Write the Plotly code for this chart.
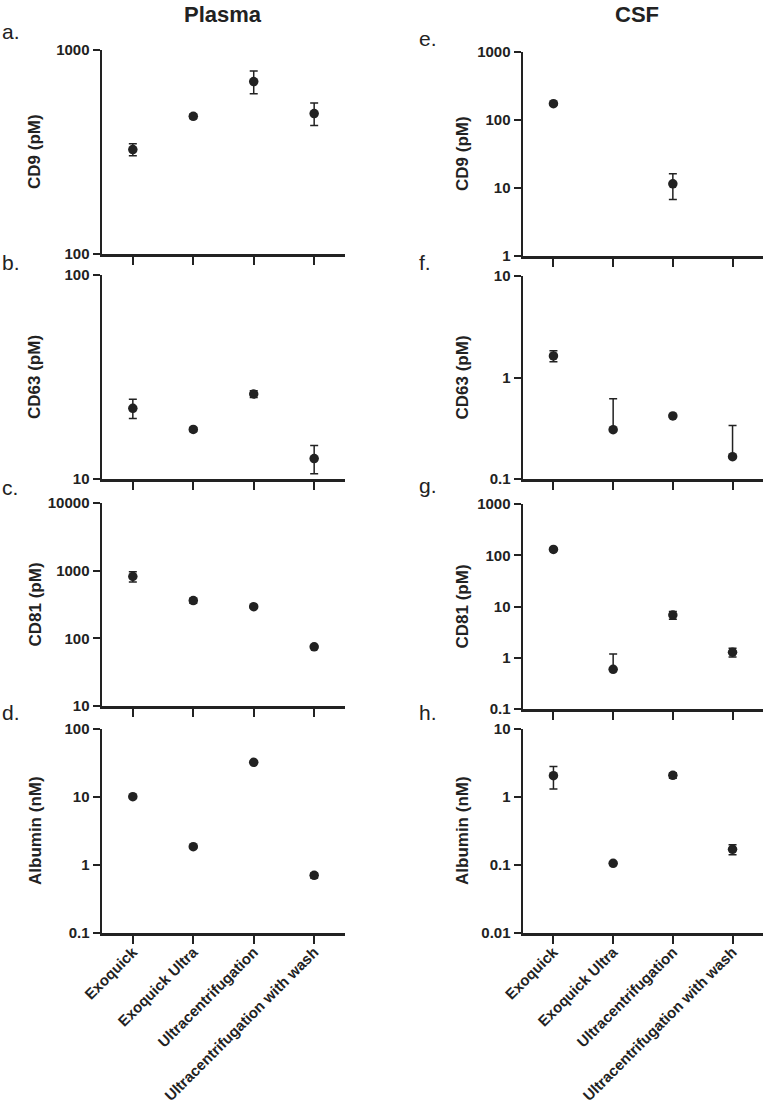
import math
import plotly.graph_objects as go

categories = ["Exoquick", "Exoquick Ultra", "Ultracentrifugation", "Ultracentrifugation with wash"]

# Plasma
plasma_cd9 = [325, 473, 700, 488]
plasma_cd9_err = [22, 12, 90, 62]
plasma_cd63 = [22.2, 17.5, 26.1, 12.6]
plasma_cd63_err = [2.4, 0.4, 1.0, 2.0]
plasma_cd81 = [820, 361, 294, 75]
plasma_cd81_err = [140, 30, 12, 3]
plasma_alb = [10.1, 1.86, 32.4, 0.705]
plasma_alb_err = [0.3, 0.06, 1.0, 0.06]

# CSF
csf_cd9 = [174, None, 11.5, None]
csf_cd9_err = [6, 0, 4.7, 0]
csf_cd63 = [1.63, 0.306, 0.418, 0.166]
csf_cd63_err_plus = [0.2, 0.31, 0.01, 0.17]
csf_cd63_err_minus = [0.2, 0.0, 0.01, 0.0]
csf_cd81 = [130, 0.594, 6.83, 1.28]
csf_cd81_err_plus = [5, 0.59, 1.2, 0.25]
csf_cd81_err_minus = [5, 0.0, 1.2, 0.25]
csf_alb = [2.06, 0.106, 2.08, 0.170]
csf_alb_err = [0.75, 0.004, 0.2, 0.028]

# tick labels
ticks_a = ["100", "1000"]
ticks_b = ["10", "100"]
ticks_c = ["10", "100", "1000", "10000"]
ticks_d = ["0.1", "1", "10", "100"]
ticks_e = ["1", "10", "100", "1000"]
ticks_f = ["0.1", "1", "10"]
ticks_g = ["0.1", "1", "10", "100", "1000"]
ticks_h = ["0.01", "0.1", "1", "10"]

W, H = 766, 1110
INK = "#222222"
FONT = "Liberation Sans"

panels = [
    ("a.", plasma_cd9, plasma_cd9_err, plasma_cd9_err, ticks_a, "CD9 (pM)", 0, (50, 254), False),
    ("b.", plasma_cd63, plasma_cd63_err, plasma_cd63_err, ticks_b, "CD63 (pM)", 0, (275, 479), False),
    ("c.", plasma_cd81, plasma_cd81_err, plasma_cd81_err, ticks_c, "CD81 (pM)", 0, (503, 706), False),
    ("d.", plasma_alb, plasma_alb_err, plasma_alb_err, ticks_d, "Albumin (nM)", 0, (729, 933), True),
    ("e.", csf_cd9, csf_cd9_err, csf_cd9_err, ticks_e, "CD9 (pM)", 1, (52, 256), False),
    ("f.", csf_cd63, csf_cd63_err_plus, csf_cd63_err_minus, ticks_f, "CD63 (pM)", 1, (276, 479), False),
    ("g.", csf_cd81, csf_cd81_err_plus, csf_cd81_err_minus, ticks_g, "CD81 (pM)", 1, (504, 709), False),
    ("h.", csf_alb, csf_alb_err, csf_alb_err, ticks_h, "Albumin (nM)", 1, (729, 933), True),
]

col_x = [(102, 345), (523, 763)]
title_x = [35, 462]
letter_pos = {"a.": (0, 31), "b.": (0, 262), "c.": (0, 488), "d.": (0, 712),
              "e.": (417, 39), "f.": (417, 262), "g.": (417, 485), "h.": (417, 712)}

fig = go.Figure()
annotations = []
layout = {}

for i, (letter, vals, ep, em, ticks, ytitle, col, (top, bot), bottom) in enumerate(panels):
    n = i + 1
    xa = "x" if n == 1 else f"x{n}"
    ya = "y" if n == 1 else f"y{n}"
    fig.add_trace(go.Scatter(
        x=categories, y=vals, xaxis=xa, yaxis=ya, mode="markers",
        marker=dict(color=INK, size=9.5, symbol="circle"),
        error_y=dict(type="data", symmetric=False, array=ep, arrayminus=em,
                     color=INK, thickness=1.5, width=4),
        showlegend=False, cliponaxis=False, hoverinfo="skip",
    ))
    tickvals = [float(t) for t in ticks]
    yr = [math.log10(tickvals[0]), math.log10(tickvals[-1])]
    x0, x1 = col_x[col]
    layout["xaxis" if n == 1 else f"xaxis{n}"] = dict(
        domain=[x0 / W, x1 / W], anchor=ya, type="category",
        range=[-0.51, 3.51], showline=True, linecolor=INK, linewidth=2.5,
        ticks="outside", ticklen=8, tickwidth=2, tickcolor=INK,
        showticklabels=bottom, tickangle=-45, showgrid=False, zeroline=False,
        ticklabelstandoff=-6,
        tickfont=dict(family=FONT, size=15, color=INK, weight="bold"),
        automargin=False, fixedrange=True,
    )
    layout["yaxis" if n == 1 else f"yaxis{n}"] = dict(
        domain=[1 - bot / H, 1 - top / H], anchor=xa, type="log",
        range=yr, tickvals=tickvals, ticktext=ticks,
        showline=True, linecolor=INK, linewidth=2.5,
        ticks="outside", ticklen=7, tickwidth=2, tickcolor=INK,
        showgrid=False, zeroline=False,
        tickfont=dict(family=FONT, size=15, color=INK, weight="bold"),
        automargin=False, fixedrange=True,
    )
    annotations.append(dict(
        text=ytitle, textangle=-90, x=title_x[col] / W, y=1 - (top + bot) / 2 / H,
        xref="paper", yref="paper", xanchor="center", yanchor="middle", showarrow=False,
        font=dict(family=FONT, size=17, color=INK, weight="bold"),
    ))
    lx, ly = letter_pos[letter]
    annotations.append(dict(
        text=letter, x=lx / W, y=1 - ly / H, xref="paper", yref="paper",
        xanchor="left", yanchor="middle", showarrow=False,
        font=dict(family=FONT, size=21, color=INK),
    ))

annotations.append(dict(text="Plasma", x=223 / W, y=1.0, xref="paper", yref="paper",
                        xanchor="center", yanchor="top", showarrow=False,
                        font=dict(family=FONT, size=22, color=INK, weight="bold")))
annotations.append(dict(text="CSF", x=637 / W, y=1.0, xref="paper", yref="paper",
                        xanchor="center", yanchor="top", showarrow=False,
                        font=dict(family=FONT, size=22, color=INK, weight="bold")))

fig.update_layout(
    width=W, height=H, margin=dict(l=0, r=0, t=0, b=0),
    paper_bgcolor="white", plot_bgcolor="white", hovermode=False,
    annotations=annotations, **layout,
)

fig.write_html(
    "out.html",
    config={"displayModeBar": False, "staticPlot": True},
    post_script="document.body.style.margin='0';document.body.style.overflow='hidden';",
)
